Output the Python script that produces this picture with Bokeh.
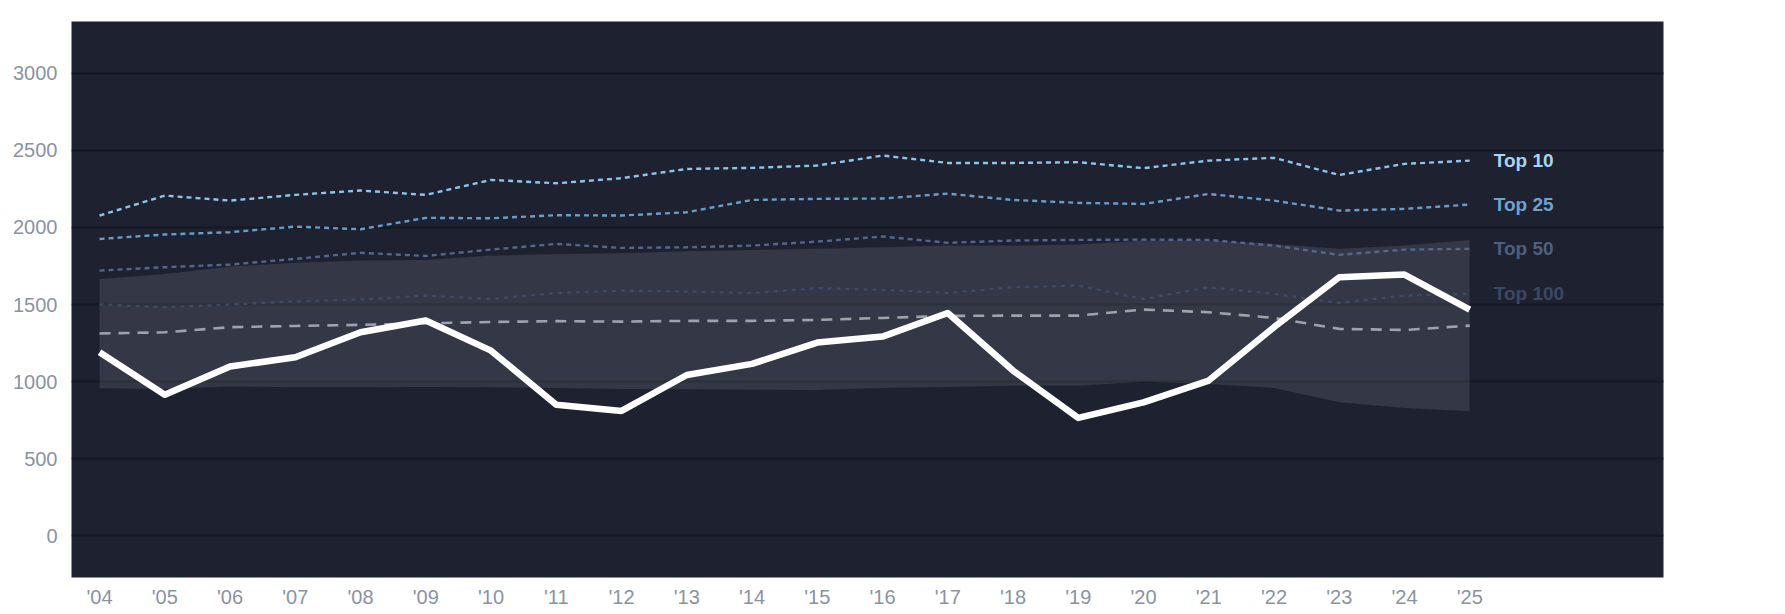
from bokeh.plotting import figure
from bokeh.models import FixedTicker, Range1d, ColumnDataSource
from bokeh.core.properties import value
from bokeh.embed import file_html
from bokeh.resources import INLINE

years = list(range(2004, 2026))
year_labels = ["'04", "'05", "'06", "'07", "'08", "'09", "'10", "'11", "'12", "'13", "'14",
               "'15", "'16", "'17", "'18", "'19", "'20", "'21", "'22", "'23", "'24", "'25"]

top10 = [2077, 2206, 2174, 2211, 2239, 2211, 2308, 2286, 2319, 2379, 2386,
         2401, 2466, 2418, 2418, 2423, 2384, 2433, 2451, 2340, 2412, 2433]
top25 = [1925, 1954, 1969, 2005, 1988, 2062, 2059, 2079, 2077, 2098, 2178,
         2185, 2187, 2219, 2178, 2159, 2152, 2217, 2174, 2109, 2120, 2148]
top50 = [1720, 1742, 1759, 1796, 1835, 1815, 1856, 1893, 1867, 1871, 1882,
         1908, 1941, 1900, 1915, 1919, 1921, 1919, 1882, 1822, 1856, 1861]
top100 = [1500, 1482, 1500, 1521, 1532, 1558, 1536, 1575, 1590, 1584, 1575,
          1606, 1595, 1575, 1612, 1623, 1536, 1612, 1569, 1510, 1558, 1569]
median = [1312, 1320, 1353, 1361, 1368, 1378, 1387, 1392, 1389, 1394, 1394,
          1400, 1413, 1426, 1428, 1428, 1467, 1450, 1413, 1342, 1335, 1363]
band_hi = [1666, 1698, 1746, 1770, 1785, 1789, 1817, 1828, 1833, 1845, 1854,
           1861, 1871, 1882, 1882, 1889, 1915, 1915, 1893, 1861, 1882, 1919]
band_lo = [957, 953, 968, 963, 963, 965, 963, 959, 953, 950, 948,
           946, 959, 965, 974, 974, 1000, 985, 959, 866, 829, 808]
team = [1190, 915, 1098, 1158, 1320, 1396, 1201, 850, 810, 1043, 1115,
        1253, 1292, 1445, 1072, 765, 866, 1007, 1353, 1677, 1694, 1467]

tier_names = ["Top 10", "Top 25", "Top 50", "Top 100"]
y_ticks = [0, 500, 1000, 1500, 2000, 2500, 3000]

BG = "#1d2130"
FONT = "Liberation Sans"

p = figure(frame_width=1592, frame_height=556, output_backend="svg", toolbar_location=None,
           x_range=Range1d(2003.57, 2027.97), y_range=Range1d(-270, 3335),
           min_border_left=71, min_border_top=21, min_border_right=45, min_border_bottom=30)

p.background_fill_color = BG
p.border_fill_color = "white"
p.outline_line_color = None

p.xgrid.grid_line_color = None
p.ygrid.grid_line_color = "#151923"
p.ygrid.grid_line_width = 2
p.ygrid.ticker = FixedTicker(ticks=y_ticks)

p.yaxis.ticker = FixedTicker(ticks=y_ticks)
p.xaxis.ticker = FixedTicker(ticks=years)
p.xaxis.major_label_overrides = {y: l for y, l in zip(years, year_labels)}

for ax in (p.xaxis, p.yaxis):
    ax.axis_line_color = None
    ax.major_tick_line_color = None
    ax.minor_tick_line_color = None
    ax.major_tick_out = 0
    ax.major_tick_in = 0
    ax.major_label_text_color = "#8a93a3"
    ax.major_label_text_font = FONT
    ax.major_label_text_font_size = "20px"
p.yaxis.major_label_standoff = 14
p.xaxis.major_label_standoff = 8

src = ColumnDataSource(dict(x=years, lo=band_lo, hi=band_hi))
p.varea(x="x", y1="lo", y2="hi", source=src, fill_color="white", fill_alpha=0.1)

tiers = [top10, top25, top50, top100]
line_colors = ["#8ec3ea", "#6b9cc8", "#52678a", "#3d4a66"]
label_colors = ["#a9d5f5", "#6fa3d0", "#4d6080", "#3c4862"]
dashes = ["5 4", "5 4", "5 4", "4 5"]

for vals, lc, d in reversed(list(zip(tiers, line_colors, dashes))):
    p.line(years, vals, line_color=lc, line_width=2.4, line_dash=d)

p.line(years, median, line_color="#9da3ad", line_width=2.6, line_dash="11 8")
p.line(years, team, line_color="white", line_width=6.5, line_join="round")

for name, vals, c in zip(tier_names, tiers, label_colors):
    p.text(x=[years[-1]], y=[vals[-1]], text=[name], x_offset=24,
           text_align="left", text_baseline="middle", text_color=c,
           text_font=value(FONT), text_font_size="19px", text_font_style="bold")

open("out.html", "w").write(file_html(p, INLINE))
